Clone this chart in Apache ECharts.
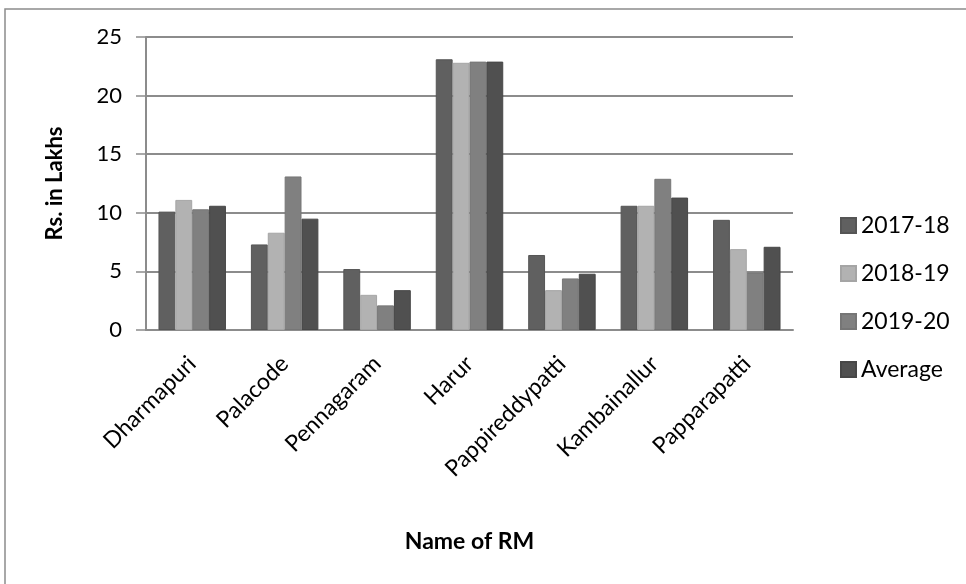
<!DOCTYPE html>
<html>
<head>
<meta charset="utf-8">
<script src="https://cdn.jsdelivr.net/npm/echarts@6/dist/echarts.min.js"></script>
<style>html,body{margin:0;padding:0;background:#fff}#c{width:966px;height:584px}</style>
</head>
<body>
<div id="c"></div>
<script>
var categories = ["Dharmapuri","Palacode","Pennagaram","Harur","Pappireddypatti","Kambainallur","Papparapatti"];
var s2017 = [10.1, 7.3, 5.2, 23.1, 6.4, 10.6, 9.4];
var s2018 = [11.1, 8.3, 3.0, 22.8, 3.4, 10.6, 6.9];
var s2019 = [10.3, 13.1, 2.1, 22.9, 4.4, 12.9, 4.9];
var sAvg  = [10.6, 9.5, 3.4, 22.9, 4.8, 11.3, 7.1];
var seriesNames = ["2017-18","2018-19","2019-20","Average"];
var yTicks = [0,5,10,15,20,25];

var colors = ["#606060","#b2b2b2","#808080","#505050"];
var borders = ["#555555","#a5a5a5","#767676","#474747"];
var font = "Lato, 'Open Sans', sans-serif";
var data = [s2017, s2018, s2019, sAvg];

var chart = echarts.init(document.getElementById('c'), null, {renderer:'canvas'});
chart.setOption({
  animation:false,
  backgroundColor:'#fff',
  graphic:[{type:'rect', shape:{x:5,y:9,width:1000,height:700}, style:{fill:'none', stroke:'#8c8c8c', lineWidth:1.5}, silent:true}],
  legend:{
    orient:'vertical', left:835, top:209, itemWidth:15, itemHeight:15, itemGap:25,
    icon:'rect',
    textStyle:{fontFamily:font, fontSize:23, color:'#000', padding:[0,0,0,0]},
    data:seriesNames
  },
  grid:{left:146, right:173, top:37, bottom:254, containLabel:false},
  xAxis:{
    type:'category', data:categories,
    axisLine:{lineStyle:{color:'#8c8c8c', width:2}},
    axisTick:{show:false},
    axisLabel:{rotate:45, fontFamily:font, fontSize:23, color:'#000', margin:30, interval:0},
    name:'Name of RM', nameLocation:'middle', nameGap:200,
    nameTextStyle:{fontFamily:font, fontSize:23, fontWeight:'bold', color:'#000'}
  },
  yAxis:{
    type:'value', min:yTicks[0], max:yTicks[yTicks.length-1], interval:5,
    axisLine:{show:true, lineStyle:{color:'#8c8c8c', width:2}},
    axisTick:{show:true, length:10, lineStyle:{color:'#8c8c8c', width:1.5}},
    splitLine:{lineStyle:{color:'#8c8c8c', width:2}},
    axisLabel:{fontFamily:font, fontSize:22, color:'#000', margin:24},
    name:'Rs. in Lakhs', nameLocation:'middle', nameGap:80, nameRotate:90,
    nameTextStyle:{fontFamily:font, fontSize:22, fontWeight:'bold', color:'#000'}
  },
  series: seriesNames.map(function(n,i){
    return {name:n, type:'bar', data:data[i], barGap:'0%', barCategoryGap:'27%',
      itemStyle:{color:colors[i], borderColor:borders[i], borderWidth:1}};
  })
});
</script>
</body>
</html>
